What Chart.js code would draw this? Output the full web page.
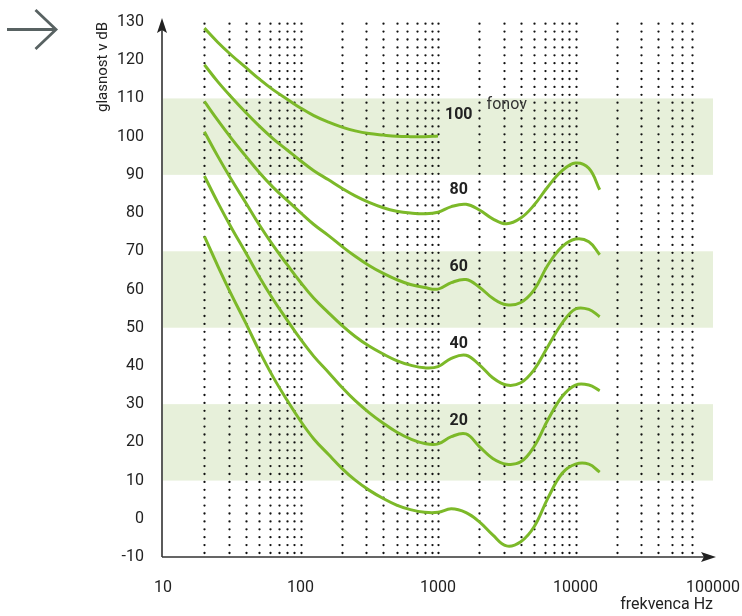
<!DOCTYPE html>
<html>
<head>
<meta charset="utf-8">
<script src="https://cdn.jsdelivr.net/npm/chart.js@4/dist/chart.umd.min.js"></script>
<style>
  body { margin: 0; background: #fff; }
  #wrap { width: 742px; height: 616px; position: relative; }
</style>
</head>
<body>
<div id="wrap"><canvas id="chart"></canvas></div>
<script>
// frequencies (Hz) at which the curves were read
var freqs = [20, 25, 31.5, 40, 50, 63, 80, 100, 125, 160, 200, 250, 315, 400, 500, 630, 800, 1000,
             1250, 1600, 2000, 2500, 3150, 4000, 5000, 6300, 8000, 10000, 12500, 15000];

// sound pressure level (dB) per loudness level
var phon100 = [128.4, 124.7, 121.3, 118.1, 115.1, 112.3, 109.8, 107.5, 105.5, 103.8, 102.5, 101.5, 100.8, 100.4, 100.1, 100.0, 100.0, 100.2];
var phon80 = [118.8, 114.4, 110.3, 106.3, 102.8, 99.5, 96.5, 93.7, 91.1, 88.7, 86.5, 84.5, 82.8, 81.4, 80.5, 80.0, 79.8, 80.2,
              81.7, 82.3, 80.8, 78.5, 77.2, 78.7, 82.1, 86.9, 91.1, 93.1, 91.7, 86.1];
var phon60 = [109.2, 104.3, 99.5, 94.9, 90.7, 86.8, 83.3, 80.1, 77.0, 74.1, 71.3, 68.7, 66.3, 64.2, 62.6, 61.3, 60.5, 60.1,
              61.8, 62.6, 60.6, 57.7, 56.0, 56.6, 59.9, 66.4, 71.2, 73.2, 72.5, 69.1];
var phon40 = [101.3, 94.9, 88.7, 82.7, 77.0, 71.6, 66.5, 61.9, 57.7, 53.9, 50.6, 47.7, 45.2, 43.1, 41.4, 40.2, 39.5, 39.8,
              42.0, 42.8, 40.3, 36.9, 35.0, 35.6, 39.0, 45.1, 51.2, 54.9, 54.8, 52.9];
var phon20 = [89.7, 82.8, 76.1, 69.6, 63.4, 57.5, 52.0, 47.0, 42.5, 38.3, 34.4, 30.9, 27.8, 25.0, 22.7, 20.9, 19.7, 19.6,
              21.5, 22.2, 18.9, 15.8, 14.3, 14.9, 18.9, 25.9, 32.0, 35.0, 35.0, 33.5];
var phon0 = [73.9, 66.2, 58.6, 51.2, 44.0, 37.2, 31.0, 25.6, 20.9, 16.8, 13.2, 10.1, 7.5, 5.3, 3.6, 2.4, 1.7, 1.7,
             2.6, 1.6, -0.8, -4.2, -7.1, -6.0, -2.1, 5.4, 11.9, 14.3, 14.3, 12.2];

var curveLabels = ['100', '80', '60', '40', '20'];
var xTicks = [10, 100, 1000, 10000, 100000];
var gridFreqs = [20, 30, 40, 50, 60, 70, 80, 90, 100,
                 200, 300, 400, 500, 600, 700, 800, 900, 1000,
                 2000, 3000, 4000, 5000, 6000, 7000, 8000, 9000, 10000,
                 20000, 30000, 40000, 50000, 60000, 70000];
var bands = [[10, 30], [50, 70], [90, 110]];

var green = '#7cb929';
var ink = '#222';
var font = 'Roboto, "Noto Sans", sans-serif';

function series(vals) {
    return vals.map(function(v, i) { return { x: freqs[i], y: v }; });
}

var backdrop = {
    id: 'backdrop',
    beforeDatasetsDraw: function(chart) {
        var ctx = chart.ctx, a = chart.chartArea;
        var xs = chart.scales.x, ys = chart.scales.y;
        ctx.save();
        ctx.fillStyle = '#e7f0da';
        bands.forEach(function(b) {
            var y1 = ys.getPixelForValue(b[1]), y0 = ys.getPixelForValue(b[0]);
            ctx.fillRect(a.left, y1, a.right - a.left, y0 - y1);
        });
        // dotted columns
        ctx.strokeStyle = '#111';
        ctx.lineWidth = 2.3;
        ctx.lineCap = 'round';
        ctx.setLineDash([0, 7.9]);
        gridFreqs.forEach(function(f) {
            var px = Math.round(xs.getPixelForValue(f)) + 0.5;
            ctx.beginPath();
            ctx.moveTo(px, a.bottom - 4);
            ctx.lineTo(px, a.top);
            ctx.stroke();
        });
        ctx.restore();
    },
    afterDatasetsDraw: function(chart) {
        var ctx = chart.ctx, a = chart.chartArea;
        var xs = chart.scales.x, ys = chart.scales.y;
        ctx.save();
        // curve labels
        ctx.fillStyle = ink;
        ctx.textAlign = 'center';
        ctx.textBaseline = 'middle';
        ctx.font = 'bold 16px ' + font;
        var lx = xs.getPixelForValue(1416);
        var ly = [105.7, 86.1, 65.9, 45.8, 25.6];
        curveLabels.forEach(function(t, i) {
            ctx.fillText(t, lx, ys.getPixelForValue(ly[i]));
        });
        ctx.font = '16px ' + font;
        ctx.fillStyle = '#333';
        ctx.fillText('fonov', xs.getPixelForValue(3162), ys.getPixelForValue(108.3));

        // axes with arrow heads
        var ax = a.left - 1, ay = a.bottom;
        ctx.strokeStyle = '#333';
        ctx.fillStyle = '#222';
        ctx.lineWidth = 1.6;
        ctx.beginPath();
        ctx.moveTo(ax, ay);
        ctx.lineTo(ax, 30);
        ctx.moveTo(ax, ay);
        ctx.lineTo(704, ay);
        ctx.stroke();
        ctx.beginPath();
        ctx.moveTo(ax, 18);
        ctx.lineTo(ax - 5, 33);
        ctx.lineTo(ax, 30);
        ctx.lineTo(ax + 5, 33);
        ctx.closePath();
        ctx.fill();
        ctx.beginPath();
        ctx.moveTo(716, ay);
        ctx.lineTo(701, ay - 5);
        ctx.lineTo(704, ay);
        ctx.lineTo(701, ay + 5);
        ctx.closePath();
        ctx.fill();

        // arrow icon top left
        ctx.strokeStyle = '#586262';
        ctx.lineWidth = 2.8;
        ctx.lineCap = 'butt';
        ctx.beginPath();
        ctx.moveTo(7, 29.5);
        ctx.lineTo(56, 29.5);
        ctx.moveTo(35.5, 10);
        ctx.lineTo(56, 29.5);
        ctx.lineTo(35.5, 49);
        ctx.stroke();
        ctx.restore();
    }
};

var sets = [phon100, phon80, phon60, phon40, phon20, phon0].map(function(vals) {
    return {
        data: series(vals),
        borderColor: green,
        borderWidth: 3,
        pointRadius: 0,
        fill: false,
        tension: 0.4
    };
});

new Chart(document.getElementById('chart'), {
    type: 'line',
    data: { datasets: sets },
    plugins: [backdrop],
    options: {
        responsive: true,
        maintainAspectRatio: false,
        animation: false,
        events: [],
        layout: { padding: { top: 22, right: 29, bottom: 0, left: 0 } },
        plugins: { legend: { display: false }, tooltip: { enabled: false } },
        scales: {
            x: {
                type: 'logarithmic',
                min: 10,
                max: 100000,
                afterBuildTicks: function(scale) {
                    scale.ticks = xTicks.map(function(v) { return { value: v }; });
                },
                afterFit: function(scale) { scale.height = 59; },
                // tick marks are hidden, their length only pushes the labels down
                grid: { display: false, drawTicks: true, tickLength: 21 },
                border: { display: false },
                ticks: {
                    autoSkip: false,
                    maxRotation: 0,
                    padding: 0,
                    color: ink,
                    font: { family: font, size: 16 },
                    callback: function(v) { return String(v); }
                },
                title: {
                    display: true,
                    text: 'frekvenca Hz',
                    align: 'end',
                    color: ink,
                    font: { family: font, size: 16 },
                    padding: { top: 0, bottom: 1 }
                }
            },
            y: {
                min: -10,
                max: 130,
                afterFit: function(scale) { scale.width = 163; },
                grid: { display: false, drawTicks: true, tickLength: 19 },
                border: { display: false },
                ticks: {
                    stepSize: 10,
                    padding: 0,
                    color: ink,
                    font: { family: font, size: 16 }
                },
                title: {
                    display: true,
                    text: 'glasnost v dB',
                    align: 'end',
                    color: ink,
                    font: { family: font, size: 15 },
                    padding: { top: 94, bottom: 0 }
                }
            }
        }
    }
});
</script>
</body>
</html>
